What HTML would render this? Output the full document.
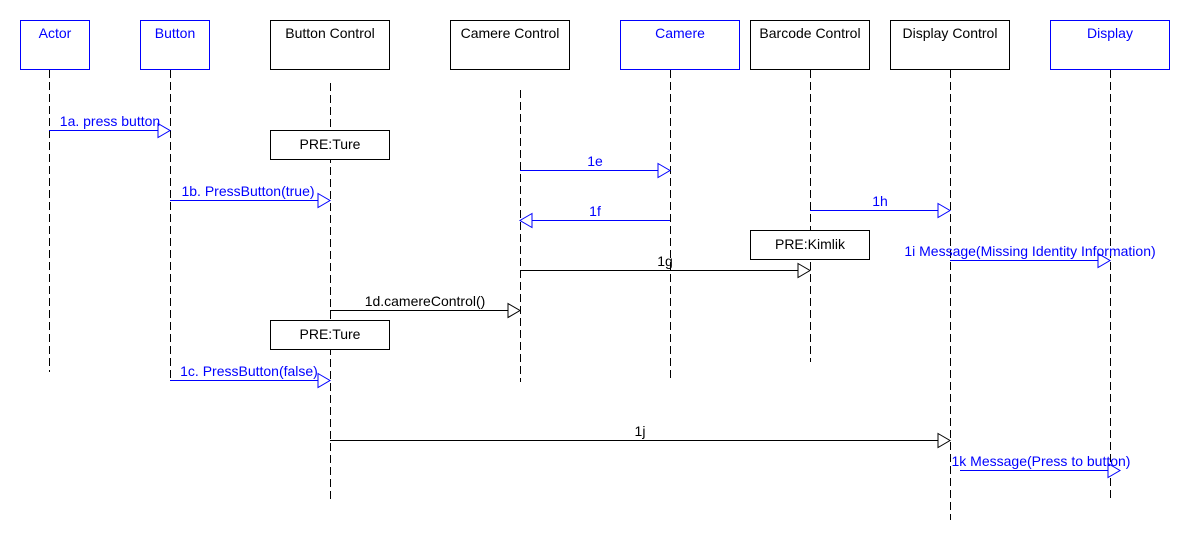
<!DOCTYPE html>
<html><head><meta charset="utf-8"><style>
html,body{margin:0;padding:0;background:#fff;}
svg{display:block;font-family:"Liberation Sans",sans-serif;font-size:14px;}
</style></head><body>
<svg width="1190" height="560" viewBox="0 0 1190 560" xmlns="http://www.w3.org/2000/svg">
<g fill="none" stroke="#000" stroke-width="1" stroke-dasharray="8,4">
<line x1="49.5" y1="70" x2="49.5" y2="372"/>
<line x1="170.5" y1="70" x2="170.5" y2="382"/>
<line x1="330.5" y1="83" x2="330.5" y2="500"/>
<line x1="520.5" y1="90" x2="520.5" y2="382"/>
<line x1="670.5" y1="70" x2="670.5" y2="382"/>
<line x1="810.5" y1="70" x2="810.5" y2="362"/>
<line x1="950.5" y1="70" x2="950.5" y2="520"/>
<line x1="1110.5" y1="70" x2="1110.5" y2="500"/>
</g>
<g fill="#fff" stroke-width="1">
<rect x="20.5" y="20.5" width="69" height="49" stroke="#00f"/>
<rect x="140.5" y="20.5" width="69" height="49" stroke="#00f"/>
<rect x="270.5" y="20.5" width="119" height="49" stroke="#000"/>
<rect x="450.5" y="20.5" width="119" height="49" stroke="#000"/>
<rect x="620.5" y="20.5" width="119" height="49" stroke="#00f"/>
<rect x="750.5" y="20.5" width="119" height="49" stroke="#000"/>
<rect x="890.5" y="20.5" width="119" height="49" stroke="#000"/>
<rect x="1050.5" y="20.5" width="119" height="49" stroke="#00f"/>
<rect x="270.5" y="130.5" width="119" height="29" stroke="#000"/>
<rect x="270.5" y="320.5" width="119" height="29" stroke="#000"/>
<rect x="750.5" y="230.5" width="119" height="29" stroke="#000"/>
</g>
<g text-anchor="middle">
<text x="55" y="38" fill="#00f">Actor</text>
<text x="175" y="38" fill="#00f">Button</text>
<text x="330" y="38">Button Control</text>
<text x="510" y="38">Camere Control</text>
<text x="680" y="38" fill="#00f">Camere</text>
<text x="810" y="38">Barcode Control</text>
<text x="950" y="38">Display Control</text>
<text x="1110" y="38" fill="#00f">Display</text>
<text x="330" y="149">PRE:Ture</text>
<text x="330" y="339">PRE:Ture</text>
<text x="810" y="249">PRE:Kimlik</text>
</g>
<g stroke-width="1" fill="none">
<g stroke="#00f">
<line x1="49" y1="130.5" x2="170" y2="130.5"/><path d="M158,123.5 L170,130.5 L158,137.5 Z" fill="#fff"/>
<line x1="170" y1="200.5" x2="330" y2="200.5"/><path d="M318,193.5 L330,200.5 L318,207.5 Z" fill="#fff"/>
<line x1="520" y1="170.5" x2="670" y2="170.5"/><path d="M658,163.5 L670,170.5 L658,177.5 Z" fill="#fff"/>
<line x1="520" y1="220.5" x2="670" y2="220.5"/><path d="M532,213.5 L520,220.5 L532,227.5 Z" fill="#fff"/>
<line x1="810" y1="210.5" x2="950" y2="210.5"/><path d="M938,203.5 L950,210.5 L938,217.5 Z" fill="#fff"/>
<line x1="950" y1="260.5" x2="1110" y2="260.5"/><path d="M1098,253.5 L1110,260.5 L1098,267.5 Z" fill="#fff"/>
<line x1="170" y1="380.5" x2="330" y2="380.5"/><path d="M318,373.5 L330,380.5 L318,387.5 Z" fill="#fff"/>
<line x1="960" y1="470.5" x2="1120" y2="470.5"/><path d="M1108,463.5 L1120,470.5 L1108,477.5 Z" fill="#fff"/>
</g>
<g stroke="#000">
<line x1="520" y1="270.5" x2="810" y2="270.5"/><path d="M798,263.5 L810,270.5 L798,277.5 Z" fill="#fff"/>
<line x1="330" y1="310.5" x2="520" y2="310.5"/><path d="M508,303.5 L520,310.5 L508,317.5 Z" fill="#fff"/>
<line x1="330" y1="440.5" x2="950" y2="440.5"/><path d="M938,433.5 L950,440.5 L938,447.5 Z" fill="#fff"/>
</g>
</g>
<g text-anchor="middle" fill="#00f">
<text x="110" y="126">1a. press button</text>
<text x="248" y="196">1b. PressButton(true)</text>
<text x="595" y="166">1e</text>
<text x="595" y="216">1f</text>
<text x="880" y="206">1h</text>
<text x="1030" y="256">1i Message(Missing Identity Information)</text>
<text x="249" y="376">1c. PressButton(false)</text>
<text x="1041" y="466">1k Message(Press to button)</text>
</g>
<g text-anchor="middle" fill="#000">
<text x="665" y="266">1g</text>
<text x="425" y="306">1d.camereControl()</text>
<text x="640" y="436">1j</text>
</g>
</svg>
</body></html>
